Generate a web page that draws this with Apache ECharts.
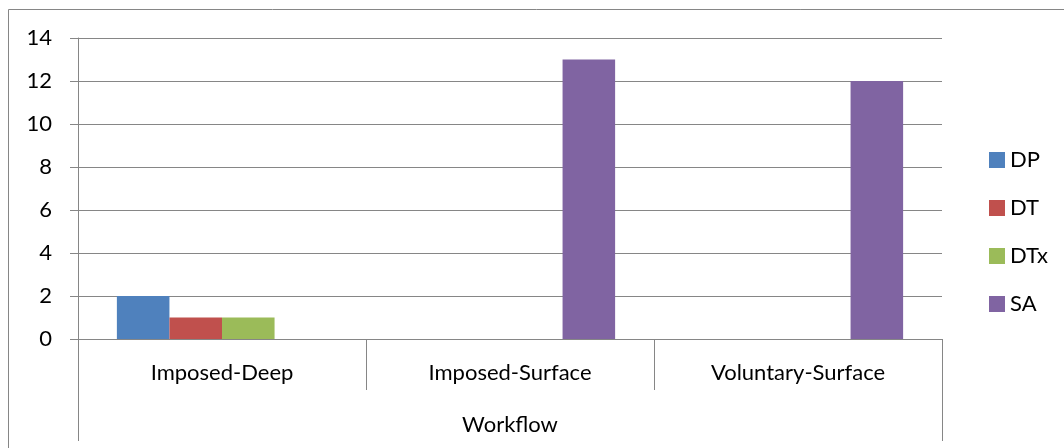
<!DOCTYPE html>
<html>
<head>
<meta charset="utf-8">
<script src="https://cdn.jsdelivr.net/npm/echarts@6/dist/echarts.min.js"></script>
<style>
  html, body { margin: 0; padding: 0; background: #fff; }
  #chart { width: 1064px; height: 448px; }
</style>
</head>
<body>
<div id="chart"></div>
<script>
// Workflow categories and series counts
const categories = ['Imposed-Deep', 'Imposed-Surface', 'Voluntary-Surface'];
const groupLabel = ['Workflow'];
const seriesNames = ['DP', 'DT', 'DTx', 'SA'];
const dpValues  = [2, 0, 0];
const dtValues  = [1, 0, 0];
const dtxValues = [1, 0, 0];
const saValues  = [0, 13, 12];

const colors = ['#4F81BD', '#C0504D', '#9BBB59', '#8064A2'];
const lineColor = '#868686';
const font = 'Lato';

const chart = echarts.init(document.getElementById('chart'), null, { renderer: 'canvas' });

const valueSets = [dpValues, dtValues, dtxValues, saValues];

chart.setOption({
  animation: false,
  color: colors,
  textStyle: { fontFamily: font, color: '#000' },
  grid: { left: 78, right: 122, top: 38, bottom: 109, containLabel: false },
  legend: {
    orient: 'vertical',
    left: 984,
    top: 144,
    itemWidth: 16,
    itemHeight: 16,
    itemGap: 26,
    icon: 'rect',
    textStyle: { fontFamily: font, fontSize: 22, color: '#000' },
    data: seriesNames
  },
  xAxis: [
    {
      // category row
      type: 'category',
      data: categories,
      position: 'bottom',
      axisLine: { show: true, lineStyle: { color: lineColor, width: 1 } },
      axisTick: { show: true, length: 51, interval: 0, lineStyle: { color: lineColor, width: 1 } },
      axisLabel: { margin: 23, fontSize: 22, color: '#000', fontFamily: font, interval: 0 },
      splitLine: { show: false }
    },
    {
      // group row underneath
      type: 'category',
      data: groupLabel,
      position: 'bottom',
      offset: 51,
      axisLine: { show: false },
      axisTick: { show: true, length: 51, lineStyle: { color: lineColor, width: 1 } },
      axisLabel: { margin: 24, fontSize: 22, color: '#000', fontFamily: font },
      splitLine: { show: false }
    }
  ],
  yAxis: {
    type: 'value',
    min: 0,
    max: 14,
    interval: 2,
    axisLine: { show: true, lineStyle: { color: lineColor, width: 1 } },
    axisTick: { show: true, length: 8, lineStyle: { color: lineColor, width: 1 } },
    axisLabel: { margin: 26, fontSize: 22, color: '#000', fontFamily: font },
    splitLine: { show: true, lineStyle: { color: lineColor, width: 1 } }
  },
  series: seriesNames.map((name, i) => ({
    name: name,
    type: 'bar',
    xAxisIndex: 0,
    data: valueSets[i],
    barGap: '0%',
    barCategoryGap: '27%',
    itemStyle: { color: colors[i] }
  })),
  graphic: [
    {
      // chart-area frame
      type: 'rect',
      silent: true,
      shape: { x: 8.5, y: 9.5, width: 1200, height: 600 },
      style: { fill: 'none', stroke: lineColor, lineWidth: 1 }
    }
  ]
});
</script>
</body>
</html>
